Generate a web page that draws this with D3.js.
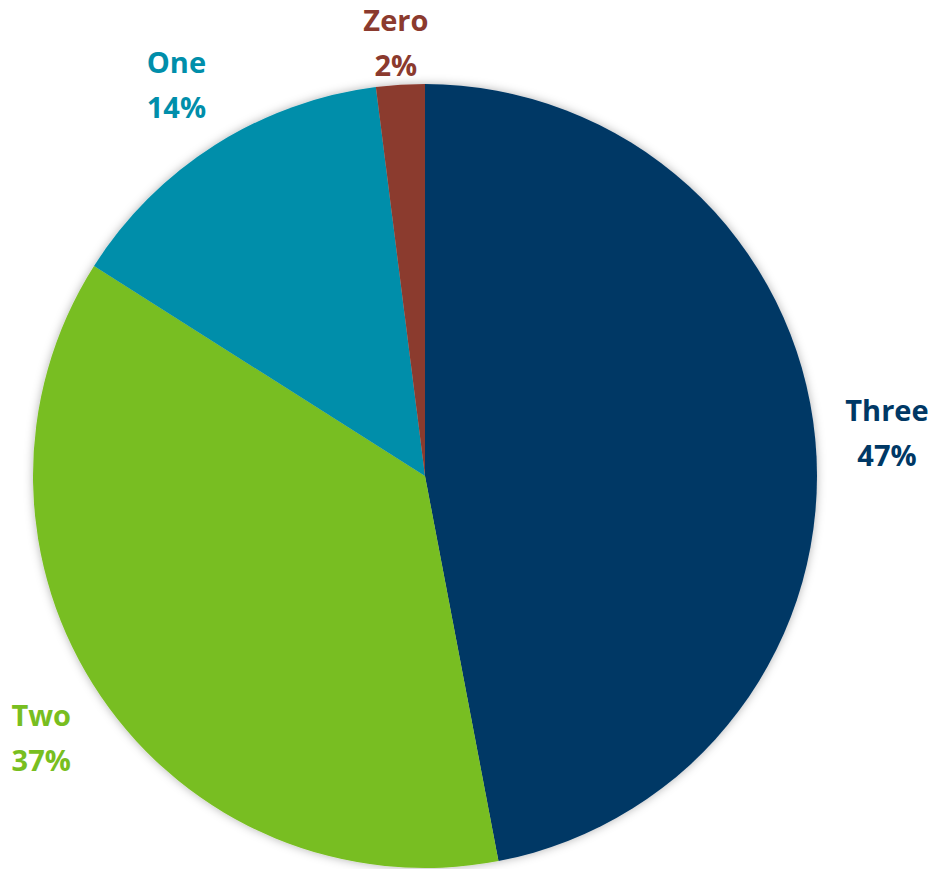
<!DOCTYPE html>
<html>
<head>
<meta charset="utf-8">
<script src="https://cdn.jsdelivr.net/npm/d3@7"></script>
<style>
  body { margin: 0; background: #fff; }
  svg { display: block; }
  .lbl { font-family: "Open Sans", sans-serif; font-weight: 700; font-size: 29px; }
</style>
</head>
<body>
<div id="chart"></div>
<script>
// slice data, clockwise from 12 o'clock
var categories = ["Three", "Two", "One", "Zero"];
var values = [47, 37, 14, 2];
var colors = ["#003865", "#78be20", "#008eaa", "#8b3a2e"];

var width = 932, height = 869;
var cx = 425, cy = 476, radius = 392;

var svg = d3.select("#chart").append("svg")
    .attr("width", width)
    .attr("height", height);

var defs = svg.append("defs");
var filt = defs.append("filter")
    .attr("id", "shadow")
    .attr("x", "-10%").attr("y", "-10%")
    .attr("width", "120%").attr("height", "120%");
filt.append("feDropShadow")
    .attr("dx", 0).attr("dy", 0)
    .attr("stdDeviation", 5)
    .attr("flood-color", "#000")
    .attr("flood-opacity", 0.3);

var data = categories.map(function(c, i){
    return {name: c, value: values[i], color: colors[i]};
});

var pie = d3.pie()
    .sort(null)
    .value(function(d){ return d.value; });

var arc = d3.arc()
    .innerRadius(0)
    .outerRadius(radius);

var g = svg.append("g")
    .attr("transform", "translate(" + cx + "," + cy + ")");

var arcs = pie(data);

g.append("g")
    .attr("filter", "url(#shadow)")
    .selectAll("path")
    .data(arcs)
  .enter().append("path")
    .attr("d", arc)
    .attr("fill", function(d){ return d.data.color; });

// labels sit outside the pie along the slice's middle angle
var labelR = radius + 72;
var total = d3.sum(values);

var lbl = g.selectAll("g.lbl")
    .data(arcs)
  .enter().append("g")
    .attr("class", "lbl")
    .attr("fill", function(d){ return d.data.color; })
    .attr("transform", function(d){
        var a = (d.startAngle + d.endAngle) / 2;
        var x = Math.sin(a) * labelR;
        var y = -Math.cos(a) * labelR;
        // keep the block inside the picture
        var minY = 8 + 34 - cy;
        if (y < minY) y = minY;
        return "translate(" + x + "," + y + ")";
    });

lbl.append("text")
    .attr("text-anchor", "middle")
    .attr("y", -11)
    .text(function(d){ return d.data.name; });

lbl.append("text")
    .attr("text-anchor", "middle")
    .attr("y", 34)
    .text(function(d){ return Math.round(d.data.value / total * 100) + "%"; });
</script>
</body>
</html>
